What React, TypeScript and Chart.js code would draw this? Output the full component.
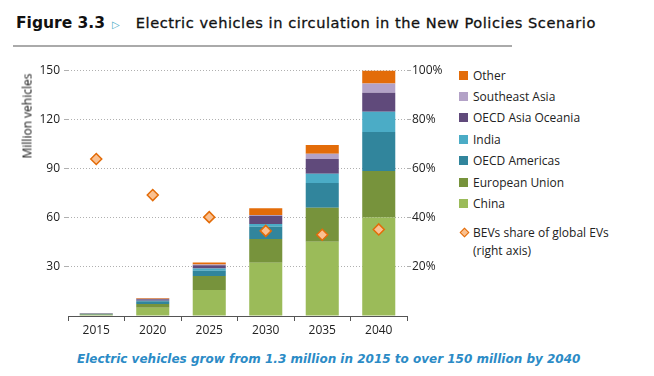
import React, { useEffect, useRef } from "react";
import { Chart, registerables } from "chart.js";

Chart.register(...registerables);

const years = ["2015", "2020", "2025", "2030", "2035", "2040"];
const china = [0.4, 5.1, 15.9, 32.6, 45.4, 60.3];
const europeanUnion = [0.45, 2.3, 8.6, 14.5, 20.8, 28.3];
const oecdAmericas = [0.5, 1.6, 3.2, 7.5, 15.1, 23.9];
const india = [0.03, 0.4, 1.4, 1.6, 5.7, 12.4];
const oecdAsiaOceania = [0.2, 0.9, 2.0, 5.1, 9.0, 11.6];
const southeastAsia = [0.03, 0.2, 0.4, 0.5, 3.2, 5.7];
const other = [0.2, 0.5, 1.2, 4.1, 5.3, 8.2];
const bevShare = [64, 49.3, 40.3, 34.7, 33.1, 35.3];
const leftTicks = [0, 30, 60, 90, 120, 150];
const rightTicks = [0, 20, 40, 60, 80, 100];

const seriesNames = [
  "China",
  "European Union",
  "OECD Americas",
  "India",
  "OECD Asia Oceania",
  "Southeast Asia",
  "Other",
];
const seriesValues = [china, europeanUnion, oecdAmericas, india, oecdAsiaOceania, southeastAsia, other];
const seriesColors = ["#9bbb59", "#77933c", "#31859c", "#4bacc6", "#604a7b", "#b3a2c7", "#e36c09"];

const FONT = "'Open Sans', 'Noto Sans', sans-serif";

export default function App() {
  const ref = useRef<HTMLCanvasElement | null>(null);

  useEffect(() => {
    if (!ref.current) return;
    const datasets: any[] = [
      {
        type: "line",
        label: "BEVs share of global EVs (right axis)",
        data: bevShare,
        yAxisID: "y2",
        showLine: false,
        pointStyle: "rectRot",
        pointRadius: 5.5,
        pointBackgroundColor: "#fac090",
        pointBorderColor: "#e36c09",
        pointBorderWidth: 1.5,
        order: 0,
      },
      ...seriesNames.map((name, i) => ({
        type: "bar",
        label: name,
        data: seriesValues[i],
        backgroundColor: seriesColors[i],
        borderWidth: 0,
        yAxisID: "y",
        stack: "s",
        barPercentage: 0.585,
        categoryPercentage: 1,
        order: 1,
      })),
    ];

    const chart = new Chart(ref.current, {
      type: "bar",
      data: { labels: years, datasets },
      options: {
        animation: false,
        responsive: false,
        maintainAspectRatio: false,
        layout: { padding: { top: 70.7, left: 0, right: 0, bottom: 0 } },
        plugins: { legend: { display: false }, tooltip: { enabled: false } },
        scales: {
          x: {
            stacked: true,
            offset: true,
            grid: {
              offset: true,
              drawOnChartArea: false,
              drawTicks: true,
              tickLength: 5,
              color: "#555",
            },
            border: { display: true, color: "#555", width: 1 },
            ticks: { color: "#222", font: { family: FONT, size: 12 }, padding: 2 },
            afterFit: (s: any) => {
              s.height = 29;
            },
          },
          y: {
            stacked: true,
            min: 0,
            max: 150,
            afterBuildTicks: (s: any) => {
              s.ticks = leftTicks.map((v) => ({ value: v }));
            },
            grid: {
              color: (c: any) => (c.tick && c.tick.value === 0 ? "rgba(0,0,0,0)" : "#b0b0b0"),
              lineWidth: 1,
              drawTicks: true,
              tickLength: 4,
            },
            border: { display: false, dash: [1, 2] },
            ticks: {
              color: "#222",
              font: { family: FONT, size: 12 },
              padding: 4,
              callback: (v: any) => (v === 0 ? "" : String(v)),
            },
            afterFit: (s: any) => {
              s.width = 68;
            },
          },
          y2: {
            position: "right",
            min: 0,
            max: 100,
            afterBuildTicks: (s: any) => {
              s.ticks = rightTicks.map((v) => ({ value: v }));
            },
            grid: {
              drawOnChartArea: false,
              drawTicks: true,
              tickLength: 4,
              color: (c: any) => (c.tick && c.tick.value === 0 ? "rgba(0,0,0,0)" : "#b0b0b0"),
            },
            border: { display: false, dash: [1, 2] },
            ticks: {
              color: "#222",
              font: { family: FONT, size: 12 },
              padding: 1,
              callback: (v: any) => (v === 0 ? "" : v + "%"),
            },
            afterFit: (s: any) => {
              s.width = 43;
            },
          },
        },
      },
    } as any);
    return () => chart.destroy();
  }, []);

  const legendItems = [...seriesNames.map((n, i) => ({ n, c: seriesColors[i] }))].reverse();

  return (
    <div
      style={{
        position: "absolute",
        left: 0,
        top: 0,
        width: 654,
        height: 376,
        background: "#fff",
        fontFamily: FONT,
        overflow: "hidden",
      }}
    >
      <div
        style={{
          position: "absolute",
          left: 16,
          top: 12,
          whiteSpace: "nowrap",
          fontFamily: "'DejaVu Sans', sans-serif",
          lineHeight: "22px",
        }}
      >
        <span style={{ fontWeight: 700, fontSize: 15.5, color: "#111" }}>Figure 3.3</span>
        <span style={{ fontSize: 10, color: "#4bacc6", marginLeft: 7 }}>▷</span>
        <span
          style={{
            fontWeight: 400,
            fontSize: 14.6,
            letterSpacing: 0.55,
            color: "#111",
            marginLeft: 16,
            fontFamily: "'DejaVu Sans', sans-serif",
            WebkitTextStroke: "0.3px #111",
          }}
        >
          Electric vehicles in circulation in the New Policies Scenario
        </span>
      </div>
      <div
        style={{
          position: "absolute",
          left: 13,
          top: 45,
          width: 499,
          height: 1.5,
          background: "#aaa",
        }}
      />
      <canvas
        ref={ref}
        width={450}
        height={345}
        style={{ position: "absolute", left: 0, top: 0, width: 450, height: 345 }}
      />
      <div
        style={{
          position: "absolute",
          left: 27,
          top: 115.5,
          transform: "translate(-50%, -50%) rotate(-90deg)",
          whiteSpace: "nowrap",
          fontSize: 12,
          color: "#111",
        }}
      >
        Million vehicles
      </div>
      {legendItems.map((it, i) => (
        <div
          key={it.n}
          style={{
            position: "absolute",
            left: 459,
            top: 75 + i * 21.4 - 10,
            height: 20,
            display: "flex",
            alignItems: "center",
            whiteSpace: "nowrap",
            fontSize: 12,
            color: "#222",
          }}
        >
          <span style={{ display: "inline-block", width: 9, height: 9, background: it.c, marginRight: 5 }} />
          {it.n}
        </div>
      ))}
      <div
        style={{
          position: "absolute",
          left: 459,
          top: 224,
          whiteSpace: "nowrap",
          fontSize: 12,
          color: "#222",
          lineHeight: "18px",
        }}
      >
        <span
          style={{
            position: "absolute",
            left: 1.5,
            top: 5,
            width: 7,
            height: 7,
            background: "#fac090",
            border: "1.3px solid #e36c09",
            transform: "rotate(45deg)",
            boxSizing: "border-box",
          }}
        />
        <div style={{ marginLeft: 14 }}>BEVs share of global EVs</div>
        <div style={{ marginLeft: 14 }}>(right axis)</div>
      </div>
      <div
        style={{
          position: "absolute",
          left: 77,
          top: 352,
          whiteSpace: "nowrap",
          fontSize: 12,
          fontStyle: "italic",
          fontWeight: 700,
          color: "#2b8bc6",
          fontFamily: "'DejaVu Sans', sans-serif",
        }}
      >
        Electric vehicles grow from 1.3 million in 2015 to over 150 million by 2040
      </div>
    </div>
  );
}
